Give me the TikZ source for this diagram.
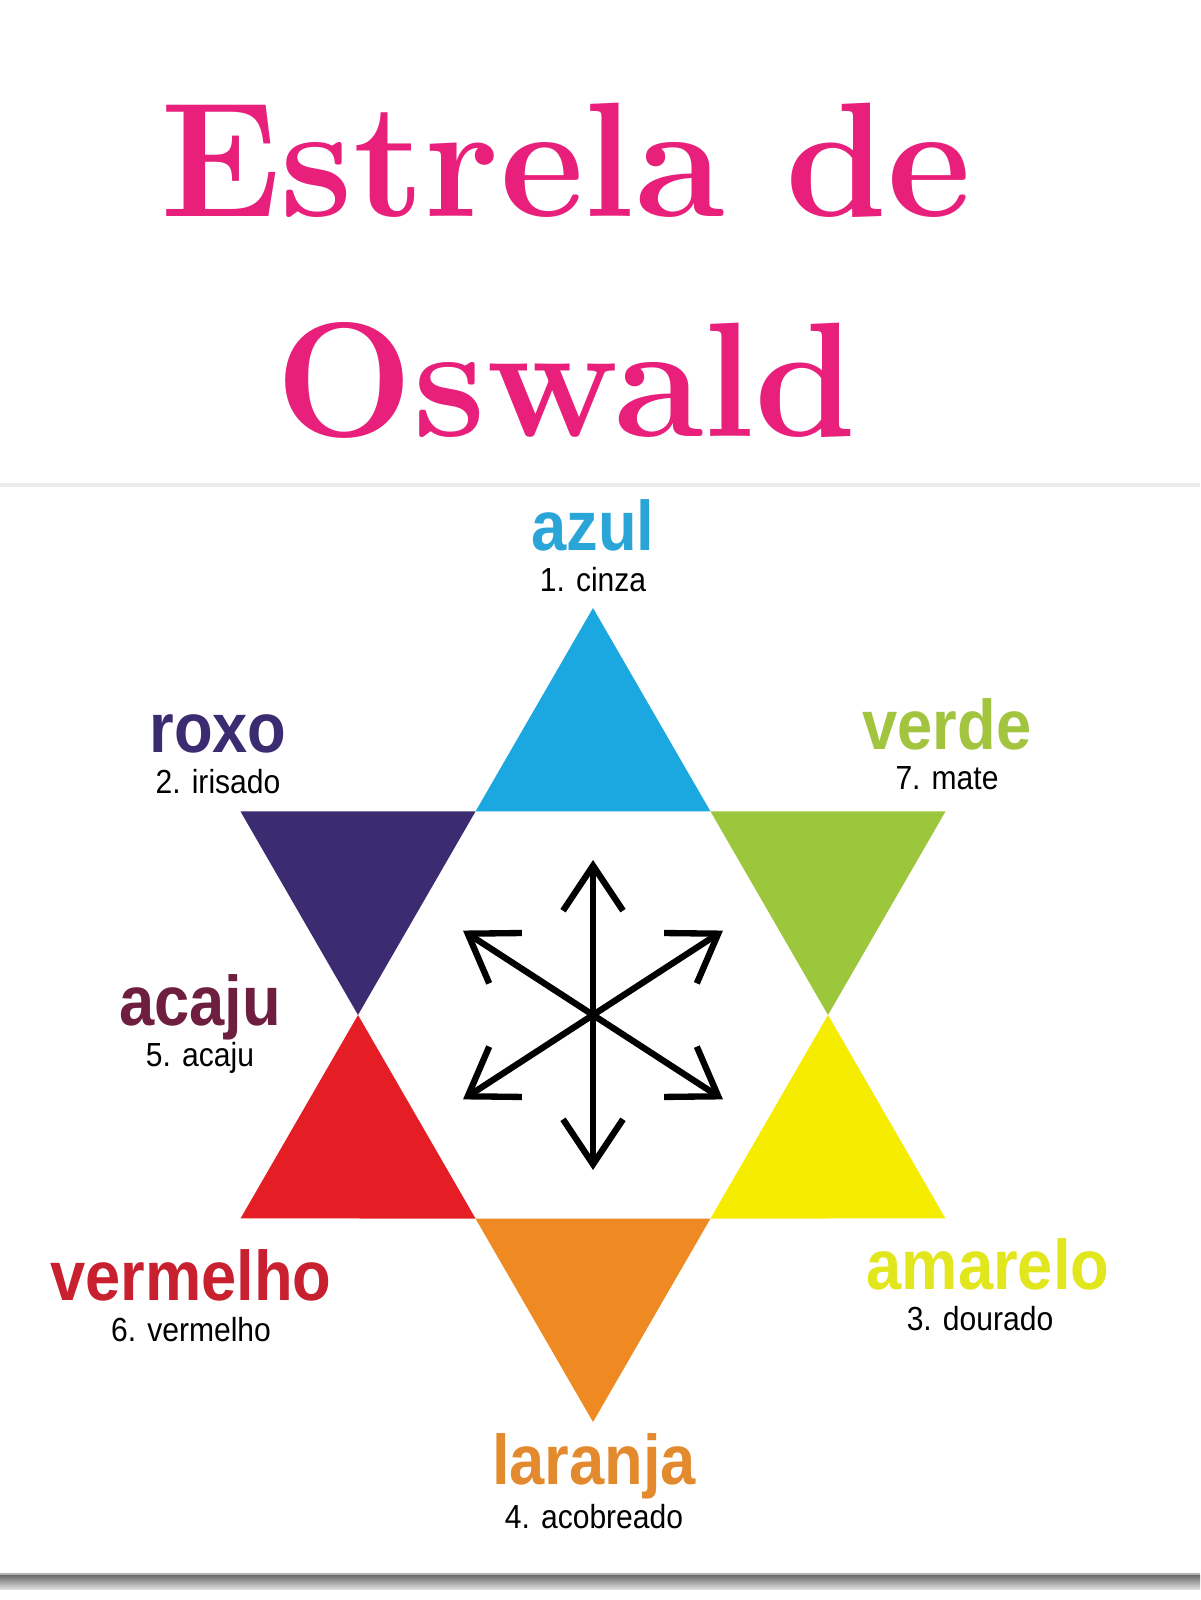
\documentclass[tikz,border=0pt]{standalone}
\usepackage{fontspec}
\usepackage{xcolor}
\usepackage{tikz}
\usetikzlibrary{positioning,arrows.meta}
\newfontfamily\rotulo[FakeStretch=0.9]{Liberation Sans}
\definecolor{titulo}{HTML}{E8207B}
\definecolor{azulc}{HTML}{1BA7E0}
\definecolor{roxoc}{HTML}{3B2C72}
\definecolor{verdec}{HTML}{9CC63B}
\definecolor{vermelhoc}{HTML}{E51E26}
\definecolor{amareloc}{HTML}{F6EC00}
\definecolor{laranjac}{HTML}{EF8A22}
\definecolor{acajuc}{HTML}{6E1F3F}
\definecolor{azult}{HTML}{2AA5D8}
\definecolor{verdet}{HTML}{A2C43E}
\definecolor{vermelhot}{HTML}{C8202F}
\definecolor{amarelot}{HTML}{E2E61C}
\definecolor{laranjat}{HTML}{E38A2E}

\begin{document}
\begin{tikzpicture}
    \tikzstyle{cor} = [anchor=base, inner sep=0pt, font=\rotulo\bfseries\fontsize{20}{24}\selectfont]
    \tikzstyle{sub} = [inner sep=0pt, font=\rotulo\fontsize{9.5}{11}\selectfont]
    \tikzstyle{seta} = [line width=1.8pt, -{Straight Barb[length=4.5mm,width=6mm]}]
    \tikzstyle{tit} = [anchor=base, text=titulo, font=\bfseries\fontsize{46.5}{56}\selectfont]
    \useasboundingbox (0,0) rectangle (12,16);
    \fill[white] (0,0) rectangle (12,16);
    % titulo
    \node[tit] (tit1) at (5.66,13.83) {Estrela de};
    \node[tit] (tit2) at (5.66,11.63) {Oswald};
    \draw[black!8, line width=1.2pt] (0,11.15) -- (12,11.15);
    % estrela
    \begin{scope}[shift={(5.93,5.85)}]
        \foreach \a/\col in {90/azulc,30/verdec,-30/amareloc,-90/laranjac,210/vermelhoc,150/roxoc}
            \fill[\col] (\a:4.07) -- (\a-30:2.35) -- (\a+30:2.35) -- cycle;
        \coordinate (c) at (0,0);
        \foreach \a in {90,33,147,213,327,270} {
            \coordinate (p\a) at (\a:1.55);
            \draw[seta] (c) -- (p\a);
        }
    \end{scope}
    % cores
    \node[cor, text=azult] (azul) at (5.93,10.49) {azul};
    \node[sub, below=1.55mm of azul.base] (cinza) {1. cinza};
    \node[cor, text=roxoc] (roxo) at (2.18,8.47) {roxo};
    \node[sub, below=1.55mm of roxo.base] (irisado) {2. irisado};
    \node[cor, text=verdet] (verde) at (9.47,8.50) {verde};
    \node[sub, below=1.55mm of verde.base] (mate) {7. mate};
    \node[cor, text=acajuc] (acaju) at (2.00,5.74) {acaju};
    \node[sub, below=1.55mm of acaju.base] (acaju2) {5. acaju};
    \node[cor, text=vermelhot] (vermelho) at (1.91,2.99) {vermelho};
    \node[sub, below=1.55mm of vermelho.base] (vermelho2) {6. vermelho};
    \node[cor, text=amarelot] (amarelo) at (9.88,3.10) {amarelo};
    \node[sub, below=1.55mm of amarelo.base, xshift=-0.8mm] (dourado) {3. dourado};
    \node[cor, text=laranjat] (laranja) at (5.94,1.15) {laranja};
    \node[sub, below=1.9mm of laranja.base] (acobreado) {4. acobreado};
    % rodape
    \shade[top color=black!55, bottom color=black!10] (0,0.10) rectangle (12,0.24);
    \draw[black!30, line width=0.6pt] (0,0.26) -- (12,0.26);
\end{tikzpicture}
\end{document}
